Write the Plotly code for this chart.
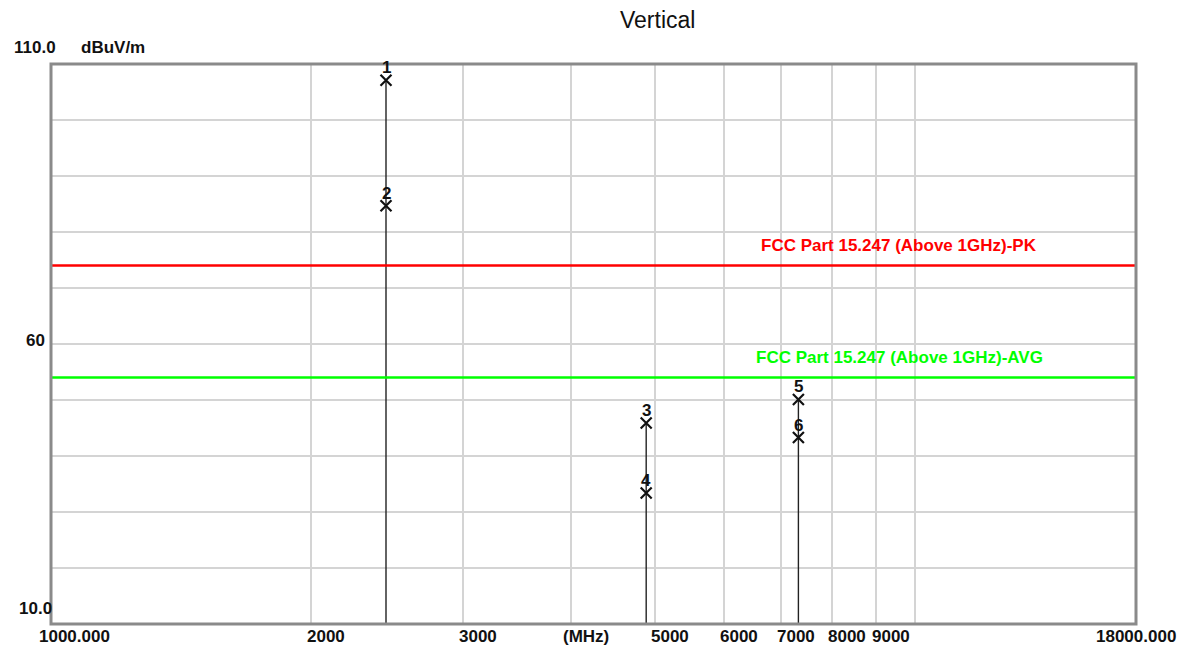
import plotly.graph_objects as go
import math

# ---- data ----
marker_ids = ["1", "2", "3", "4", "5", "6"]
marker_freq = [2441, 2441, 4882, 4882, 7323, 7323]          # MHz
marker_level = [107.1, 84.7, 45.9, 33.4, 50.1, 43.3]         # dBuV/m

limit_names = ["FCC Part 15.247 (Above 1GHz)-PK", "FCC Part 15.247 (Above 1GHz)-AVG"]
limit_values = [74, 54]

x_tick_vals = [1000, 2000, 3000, 4000, 5000, 6000, 7000, 8000, 9000, 18000]
x_tick_text = ["1000.000", "2000", "3000", "(MHz)", "5000", "6000", "7000", "8000", "9000", "18000.000"]
x_grid_vals = [2000, 3000, 4000, 5000, 6000, 7000, 8000, 9000, 10000]

y_min, y_max = 10, 110
y_grid_vals = list(range(10, 111, 10))
y_label_vals = [110, 60, 10]
y_label_text = ["110.0", "60", "10.0"]
y_unit = "dBuV/m"
title_text = "Vertical"
x_range = [1000, 18000]

# ---- styles ----
limit_colors = ["#ff0000", "#00ff00"]
FONT = "Liberation Sans, Arial, sans-serif"
W, H = 1184, 651
L, R, T, B = 51, 48, 64, 27

fig = go.Figure()

# stems: one per distinct frequency, from bottom to highest marker
stems = {}
for f, v in zip(marker_freq, marker_level):
    stems[f] = max(stems.get(f, y_min), v)
for f, top in stems.items():
    fig.add_trace(go.Scatter(x=[f, f], y=[y_min, top], mode="lines",
                             line=dict(color="#222222", width=1.4),
                             hoverinfo="skip", showlegend=False))

# limit lines
for name, val, col in zip(limit_names, limit_values, limit_colors):
    fig.add_trace(go.Scatter(x=x_range, y=[val, val], mode="lines",
                             line=dict(color=col, width=2.5), name=name,
                             showlegend=False))

# markers
fig.add_trace(go.Scatter(x=marker_freq, y=marker_level, mode="markers",
                         marker=dict(symbol="x-thin", size=11,
                                     line=dict(color="#111111", width=2.2)),
                         showlegend=False))

annotations = []
for mid, f, v in zip(marker_ids, marker_freq, marker_level):
    annotations.append(dict(x=math.log10(f), y=v, xref="x", yref="y", text=mid,
                            showarrow=False, xanchor="center", yanchor="bottom", yshift=1,
                            font=dict(family=FONT, size=17, color="#111111",
                                      weight="bold")))

# limit labels
for name, val, col in zip(limit_names, limit_values, limit_colors):
    annotations.append(dict(x=0.7816, y=val, xref="paper", yref="y", text=name,
                            showarrow=False, xanchor="center", yanchor="bottom", yshift=9,
                            font=dict(family=FONT, size=17, color=col, weight="bold")))

# x tick labels
n = len(x_tick_vals)
for i, (v, t) in enumerate(zip(x_tick_vals, x_tick_text)):
    shift = 15
    if i == 0:
        shift = 23
    elif i == n - 1:
        shift = 0
    annotations.append(dict(x=math.log10(v), y=0, xref="x", yref="paper", text=t,
                            showarrow=False, xanchor="center", yanchor="top",
                            yshift=-1, xshift=shift,
                            font=dict(family=FONT, size=17, color="#111111", weight="bold")))

# y tick labels
for v, t in zip(y_label_vals, y_label_text):
    ysh = 4
    if v == y_max:
        ysh = 17
    elif v == y_min:
        ysh = 16
    annotations.append(dict(x=0, y=v, xref="paper", yref="y", text=t,
                            showarrow=False, xanchor="center", yanchor="middle",
                            xshift=-16, yshift=ysh,
                            font=dict(family=FONT, size=17, color="#111111", weight="bold")))
annotations.append(dict(x=0, y=y_max, xref="paper", yref="y", text=y_unit,
                        showarrow=False, xanchor="center", yanchor="middle",
                        xshift=62, yshift=17,
                        font=dict(family=FONT, size=17, color="#111111", weight="bold")))

# title
annotations.append(dict(x=0.5594, y=1, xref="paper", yref="paper", text=title_text,
                        showarrow=False, xanchor="center", yanchor="middle", yshift=44,
                        font=dict(family=FONT, size=23, color="#111111")))

fig.update_layout(
    width=W, height=H, autosize=False,
    margin=dict(l=L, r=R, t=T, b=B, pad=0),
    paper_bgcolor="white", plot_bgcolor="white",
    showlegend=False,
    annotations=annotations,
    xaxis=dict(type="log", range=[math.log10(x_range[0]), math.log10(x_range[1])],
               tickvals=x_grid_vals, showticklabels=False, ticks="",
               showgrid=True, gridcolor="#d4d4d4", gridwidth=1.5,
               zeroline=False, showline=False),
    yaxis=dict(range=[y_min, y_max], tickvals=y_grid_vals, showticklabels=False,
               ticks="", showgrid=True, gridcolor="#d4d4d4", gridwidth=1.5,
               zeroline=False, showline=False),
    shapes=[dict(type="rect", xref="paper", yref="paper", x0=0, y0=0, x1=1, y1=1,
                 line=dict(color="#8a8a8a", width=3), layer="above")],
)

fig.write_html("out.html", config={"displayModeBar": False},
               post_script="document.body.style.margin='0';document.body.style.overflow='hidden';")
